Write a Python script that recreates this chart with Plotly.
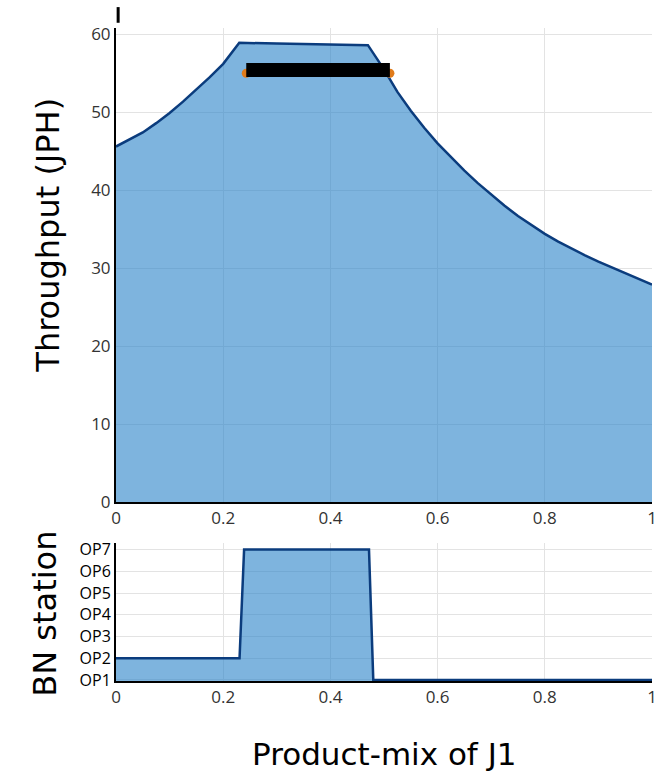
import plotly.graph_objects as go

# Top panel: throughput vs product mix
mix = [0.000, 0.025, 0.050, 0.075, 0.100, 0.125, 0.150, 0.175, 0.200, 0.215, 0.230,
       0.300, 0.400, 0.470, 0.500, 0.525, 0.550, 0.575, 0.600, 0.625, 0.650, 0.675,
       0.700, 0.725, 0.750, 0.775, 0.800, 0.825, 0.850, 0.875, 0.900, 0.925, 0.950,
       0.975, 1.000]
throughput = [45.6, 46.45, 47.4, 48.6, 49.9, 51.35, 52.9, 54.5, 56.2, 57.5, 58.9,
              58.8, 58.7, 58.6, 55.5, 52.6, 50.2, 48.0, 46.0, 44.2, 42.5, 40.9,
              39.4, 38.0, 36.7, 35.5, 34.4, 33.4, 32.5, 31.65, 30.85, 30.1, 29.35,
              28.6, 27.9]

# Highlight bar (black) with orange end points
bar_x = [0.243, 0.511]
bar_y = [55.4, 55.4]

# Bottom panel: bottleneck station
bn_x = [0.00, 0.2305, 0.239, 0.472, 0.48, 1.00]
bn_y = [2, 2, 7, 7, 1, 1]
stations = ["OP1", "OP2", "OP3", "OP4", "OP5", "OP6", "OP7"]
station_vals = [1, 2, 3, 4, 5, 6, 7]

x_ticks = [0, 0.2, 0.4, 0.6, 0.8, 1]
y_ticks = [0, 10, 20, 30, 40, 50, 60]

FILL = "rgba(40,130,200,0.6)"
LINE = "#0b3c7d"
GRID = "#e3e3e3"

fig = go.Figure()
fig.add_trace(go.Scatter(x=mix, y=throughput, mode="lines", fill="tozeroy",
                         fillcolor=FILL, line=dict(color=LINE, width=2.5),
                         xaxis="x", yaxis="y", showlegend=False))
fig.add_trace(go.Scatter(x=bar_x, y=[v - 0.4 for v in bar_y], mode="markers",
                         marker=dict(color="#e07b1a", size=9),
                         xaxis="x", yaxis="y", showlegend=False))
fig.add_trace(go.Scatter(x=bar_x, y=bar_y, mode="lines",
                         line=dict(color="black", width=14),
                         xaxis="x", yaxis="y", showlegend=False))
fig.add_trace(go.Scatter(x=bn_x, y=bn_y, mode="lines", fill="tozeroy",
                         fillcolor=FILL, line=dict(color=LINE, width=2.5),
                         xaxis="x2", yaxis="y2", showlegend=False))

tickfont = dict(family="Open Sans", size=17, color="#333")
TITLE_FONT = dict(family="DejaVu Sans", size=32, color="black")

fig.update_layout(
    width=669, height=774,
    margin=dict(l=116, r=12, t=28, b=93),
    paper_bgcolor="white", plot_bgcolor="white",
    xaxis=dict(domain=[0, 1], range=[0, 1], tickvals=x_ticks, anchor="y",
               showgrid=True, gridcolor=GRID, zeroline=False,
               showline=True, linecolor="black", linewidth=2,
               tickfont=tickfont, ticks=""),
    yaxis=dict(domain=[0.274, 1], range=[0, 60.8], tickvals=y_ticks, anchor="x",
               showgrid=True, gridcolor=GRID, zeroline=False,
               showline=True, linecolor="black", linewidth=2,
               tickfont=tickfont, ticks=""),
    xaxis2=dict(domain=[0, 1], range=[0, 1], tickvals=x_ticks, anchor="y2",
                showgrid=True, gridcolor=GRID, zeroline=False,
                showline=True, linecolor="black", linewidth=2,
                tickfont=tickfont, ticks=""),
    yaxis2=dict(domain=[0, 0.2113], range=[0.95, 7.3], tickvals=station_vals,
                ticktext=stations, anchor="x2",
                showgrid=True, gridcolor=GRID, zeroline=False,
                showline=True, linecolor="black", linewidth=2,
                tickfont=dict(family="Open Sans", size=16, color="black"),
                ticks=""),
    annotations=[
        dict(text="Throughput (JPH)", xref="paper", yref="paper", x=-0.1275, y=0.683,
             textangle=-90, showarrow=False, xanchor="center", yanchor="middle",
             font=TITLE_FONT),
        dict(text="BN station", xref="paper", yref="paper", x=-0.133, y=0.1026,
             textangle=-90, showarrow=False, xanchor="center", yanchor="middle",
             font=TITLE_FONT),
        dict(text="Product-mix of J1", xref="paper", yref="paper", x=0.5, y=-0.112,
             showarrow=False, xanchor="center", yanchor="middle",
             font=dict(family="DejaVu Sans", size=31, color="black")),
    ],
    shapes=[
        dict(type="line", xref="x", yref="paper", x0=0.004, x1=0.004,
             y0=1.008, y1=1.032, line=dict(color="black", width=3)),
    ],
)

fig.write_html("out.html", config={"displayModeBar": False},
               post_script="document.body.style.margin='0';")
